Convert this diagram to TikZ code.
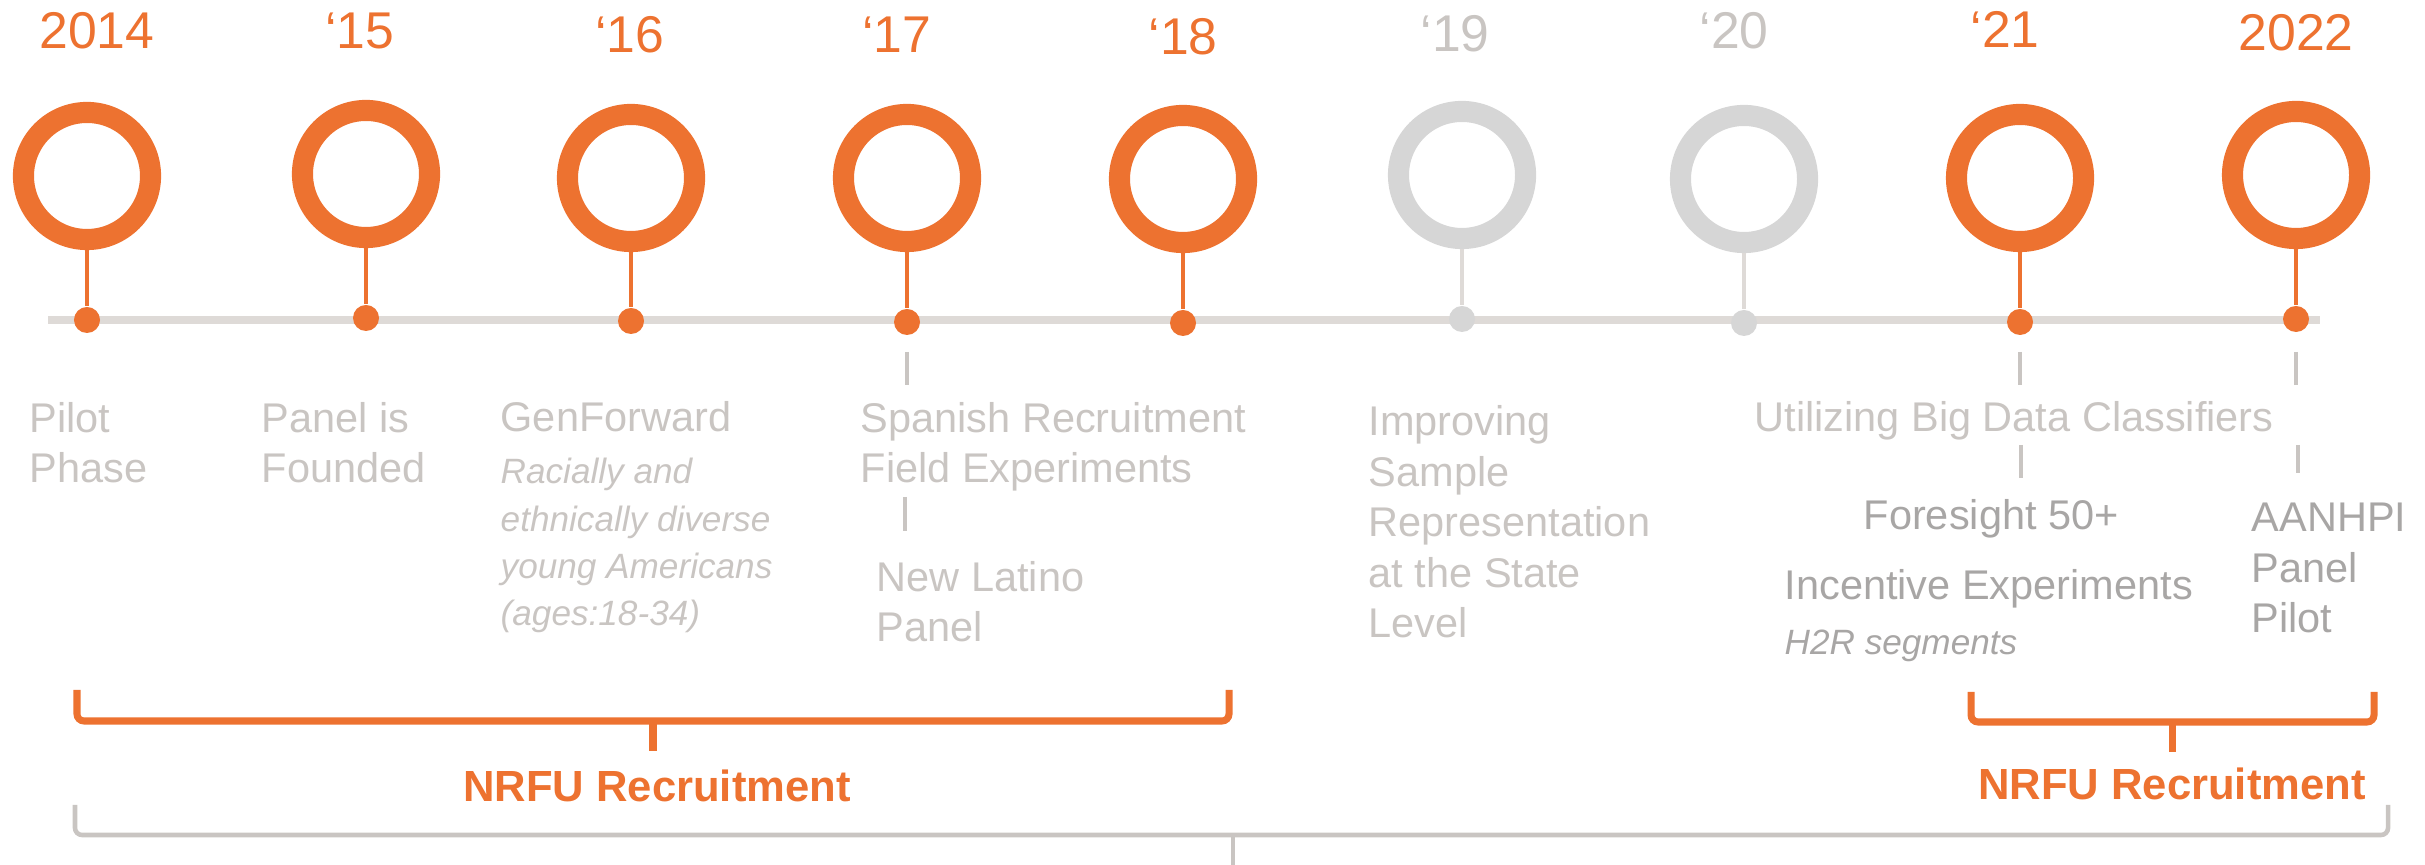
\documentclass[tikz,border=0pt]{standalone}
\usepackage{fontspec}
\setmainfont{Liberation Sans}
\definecolor{nrfu}{RGB}{237,114,48}
\definecolor{faded}{RGB}{214,214,214}
\definecolor{axisgray}{RGB}{222,218,215}
\definecolor{labelgray}{RGB}{201,197,194}
\definecolor{darkgray}{RGB}{168,166,165}
\tikzset{
  ring/.style={circle, draw=#1, line width=6pt, minimum size=1.27cm, inner sep=0pt},
  ring/.default=nrfu,
  dotnode/.style={circle, fill=#1, minimum size=0.26cm, inner sep=0pt},
  dotnode/.default=nrfu,
  stem/.style={draw=#1, line width=1.2pt},
  stem/.default=nrfu,
  year/.style={anchor=base, text=#1, font=\fontsize{14.7}{17}\selectfont},
  year/.default=nrfu,
  entry/.style={anchor=base west, align=left, inner sep=0pt, text=labelgray, font=\fontsize{11.8}{14.4}\selectfont},
  note/.style={anchor=base west, align=left, inner sep=0pt, text=labelgray, font=\fontsize{10}{13.5}\selectfont\itshape},
  yeartick/.style={draw=labelgray, line width=1.3pt},
  bracket/.style={draw=#1, line width=2pt, rounded corners=2pt},
  bracket/.default=nrfu,
  rangelabel/.style={anchor=base, text=nrfu, font=\fontsize{12.4}{14}\selectfont\bfseries},
}
\begin{document}
\begin{tikzpicture}[x=0.01cm, y=-0.01cm]
  \useasboundingbox (0,0) rectangle (2425,865);
  % axis
  \draw[axisgray, line width=2.3pt] (48,320) -- (2320,320);

  % years
  \node[year] (y14) at (97,49) {2014};
  \node[year] (y15) at (360,49) {‘15};
  \node[year] (y16) at (630,53) {‘16};
  \node[year] (y17) at (897,53) {‘17};
  \node[year] (y18) at (1183,55) {‘18};
  \node[year=labelgray] (y19) at (1455,52) {‘19};
  \node[year=labelgray] (y20) at (1734,49) {‘20};
  \node[year] (y21) at (2005,48) {‘21};
  \node[year] (y22) at (2296,51) {2022};

  % rings
  \node[ring] (r14) at (87,176) {};
  \node[ring] (r15) at (366,174) {};
  \node[ring] (r16) at (631,178) {};
  \node[ring] (r17) at (907,178) {};
  \node[ring] (r18) at (1183,179) {};
  \node[ring=faded] (r19) at (1462,175) {};
  \node[ring=faded] (r20) at (1744,179) {};
  \node[ring] (r21) at (2020,178) {};
  \node[ring] (r22) at (2296,175) {};

  % dots on the axis
  \node[dotnode] (d14) at (87,320) {};
  \node[dotnode] (d15) at (366,318) {};
  \node[dotnode] (d16) at (631,321) {};
  \node[dotnode] (d17) at (907,322) {};
  \node[dotnode] (d18) at (1183,323) {};
  \node[dotnode=faded] (d19) at (1462,319) {};
  \node[dotnode=faded] (d20) at (1744,323) {};
  \node[dotnode] (d21) at (2020,322) {};
  \node[dotnode] (d22) at (2296,319) {};

  % stems
  \draw[stem] (r14.south) -- (d14.north);
  \draw[stem] (r15.south) -- (d15.north);
  \draw[stem] (r16.south) -- (d16.north);
  \draw[stem] (r17.south) -- (d17.north);
  \draw[stem] (r18.south) -- (d18.north);
  \draw[stem=axisgray] (r19.south) -- (d19.north);
  \draw[stem=axisgray] (r20.south) -- (d20.north);
  \draw[stem] (r21.south) -- (d21.north);
  \draw[stem] (r22.south) -- (d22.north);

  % events (base = last line)
  \node[entry] (pilot) at (29,483) {Pilot\\Phase};
  \node[entry] (founded) at (261,483) {Panel is\\Founded};
  \node[entry] (genfwd) at (500,432) {GenForward};
  \node[note] (genfwdnote) at (500,626) {Racially and\\ethnically diverse\\young Americans\\(ages:18-34)};
  \node[entry] (spanish) at (860,483) {Spanish Recruitment\\Field Experiments};
  \node[entry] (latino) at (876,642) {New Latino\\Panel};
  \node[entry] (improving) at (1368,638) {Improving\\Sample\\Representation\\at the State\\Level};
  \node[entry] (bigdata) at (1754,432) {Utilizing Big Data Classifiers};
  \node[entry, text=darkgray] (foresight) at (1863,530) {Foresight 50+};
  \node[entry, text=darkgray] (incentive) at (1784,600) {Incentive Experiments};
  \node[note, text=darkgray] (h2r) at (1784,655) {H2R segments};
  \node[entry, text=darkgray] (aanhpi) at (2251,633) {AANHPI\\Panel\\Pilot};

  % ticks under the dots
  \draw[yeartick] (907,352) -- (907,385);
  \draw[yeartick] (905,497) -- (905,531);
  \draw[yeartick] (2020,352) -- (2020,385);
  \draw[yeartick] (2021,445) -- (2021,478);
  \draw[yeartick] (2296,352) -- (2296,385);
  \draw[yeartick] (2298,445) -- (2298,473);

  % brackets
  \draw[bracket] (77,690) -- (77,721) -- (1229,721) -- (1229,690);
  \draw[bracket] (653,721) -- (653,751);
  \node[rangelabel] (nrfu1) at (657,802) {NRFU Recruitment};
  \draw[bracket] (1971,692) -- (1971,722) -- (2374,722) -- (2374,692);
  \draw[bracket] (2172,722) -- (2172,752);
  \node[rangelabel] (nrfu2) at (2172,800) {NRFU Recruitment};
  \draw[bracket=labelgray, line width=1.3pt] (75,805) -- (75,835) -- (2388,835) -- (2388,805);
  \draw[bracket=labelgray, line width=1.3pt] (1233,835) -- (1233,865);
\end{tikzpicture}
\end{document}
